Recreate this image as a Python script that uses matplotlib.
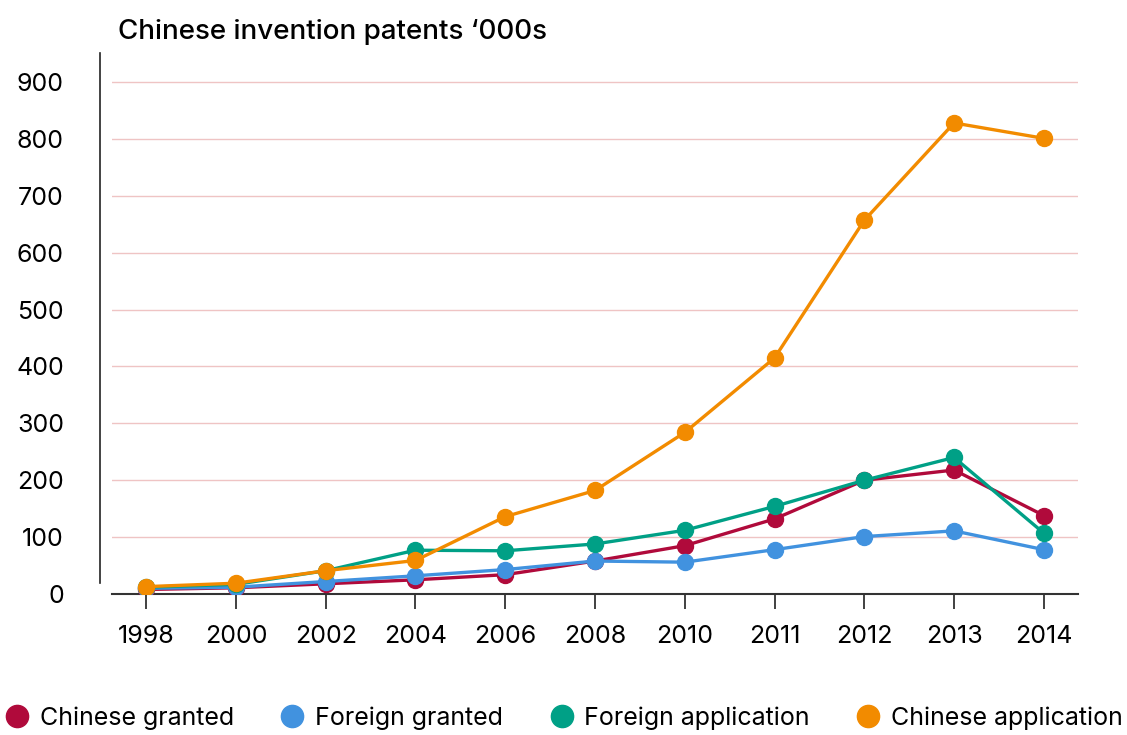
import matplotlib
matplotlib.use("Agg")
import matplotlib.pyplot as plt
from matplotlib.lines import Line2D

plt.rcParams['font.family'] = ['Inter', 'DejaVu Sans']

years = ['1998', '2000', '2002', '2004', '2006', '2008', '2010', '2011', '2012', '2013', '2014']
chinese_granted = [8, 11, 18, 25, 34, 58, 85, 132, 200, 218, 138]
foreign_granted = [10, 12, 22, 32, 43, 58, 56, 78, 101, 111, 78]
foreign_application = [12, 17, 41, 77, 76, 88, 112, 154, 200, 240, 107]
chinese_application = [13, 19, 41, 59, 136, 182, 284, 415, 657, 828, 801]

series = [
    ('Chinese granted', chinese_granted, '#b00a3b'),
    ('Foreign granted', foreign_granted, '#4192df'),
    ('Foreign application', foreign_application, '#00a086'),
    ('Chinese application', chinese_application, '#f28b00'),
]

fig = plt.figure(figsize=(11.27, 7.35), dpi=100)
ax = fig.add_axes([0.0994, 0.1918, 0.8571, 0.7361])

x = list(range(len(years)))
for name, vals, col in series:
    ax.plot(x, vals, color=col, lw=2.4, marker='o', ms=11.5, label=name, zorder=3)

ax.set_xlim(-0.38, 10.38)
ax.set_ylim(0, 951)
ax.set_yticks(range(0, 1000, 100))
ax.set_xticks(x)
ax.set_xticklabels(years)

ax.grid(axis='y', color='#efc4c4', lw=1)
ax.set_axisbelow(True)

for s in ['top', 'right']:
    ax.spines[s].set_visible(False)
# y spine sits a little left of the plot, short of zero
ax.spines['left'].set_position(('outward', 8.6))
ax.spines['left'].set_bounds(20, 951)
ax.spines['left'].set_color('#222222')
ax.spines['left'].set_linewidth(1.2)
ax.spines['bottom'].set_color('#333333')
ax.spines['bottom'].set_linewidth(1.5)

ax.tick_params(axis='y', length=0, pad=26, labelsize=18)
ax.tick_params(axis='x', length=11, width=1.3, color='#333333', pad=11, labelsize=18)

fig.text(0.1047, 0.957, 'Chinese invention patents \u2018000s', fontsize=20,
         fontweight='medium', ha='left', va='center')

handles = [Line2D([], [], ls='none', marker='o', ms=16, color=c) for _, _, c in series]
fig.legend(handles, [n for n, _, _ in series], loc='center', ncol=4,
           bbox_to_anchor=(0.5, 0.023), frameon=False, fontsize=18,
           handletextpad=0.4, columnspacing=1.85, handlelength=1.0)

fig.savefig('out.png', dpi=100)
